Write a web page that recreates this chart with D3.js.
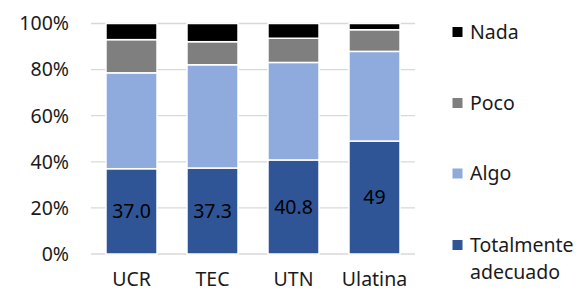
<!DOCTYPE html>
<html><head><meta charset="utf-8">
<script src="https://cdn.jsdelivr.net/npm/d3@7"></script>
<style>
html,body{margin:0;padding:0;background:#fff;}
svg{display:block;font-family:"Noto Sans",sans-serif;}
</style></head>
<body>
<svg id="chart" width="582" height="292"></svg>
<script>
const categories = ["UCR", "TEC", "UTN", "Ulatina"];
const seriesNames = ["Totalmente adecuado", "Algo", "Poco", "Nada"];
const totalmente = [37.0, 37.3, 40.8, 49.0];
const algo = [41.6, 44.8, 42.3, 38.9];
const poco = [14.4, 10.0, 10.5, 9.4];
const nada = [7.0, 7.9, 6.4, 2.7];
const valueLabels = ["37.0", "37.3", "40.8", "49"];
const yTicks = [0, 20, 40, 60, 80, 100];
const colors = ["#2F5597", "#8FAADC", "#7F7F7F", "#000000"];

const svg = d3.select("#chart");
const fontSize = 19.5;
const x = d3.scaleBand().domain(categories).range([91, 415]).paddingInner(0.37).paddingOuter(0.185);
const y = d3.scaleLinear().domain([0, 100]).range([254, 23.5]);

const rows = categories.map((c, i) => ({cat: c, "Totalmente adecuado": totalmente[i], "Algo": algo[i], "Poco": poco[i], "Nada": nada[i]}));
const stacked = d3.stack().keys(seriesNames)(rows);

// gridlines
svg.append("g").selectAll("line").data(yTicks).join("line")
  .attr("x1", 91).attr("x2", 415)
  .attr("y1", d => y(d)).attr("y2", d => y(d))
  .attr("stroke", "#d9d9d9").attr("stroke-width", 1.3);

// y labels
svg.append("g").selectAll("text").data(yTicks).join("text")
  .attr("x", 69).attr("y", d => y(d)).attr("dy", "0.35em")
  .attr("text-anchor", "end").attr("font-size", fontSize).attr("fill", "#1a1a1a")
  .text(d => d + "%");

// bars
stacked.forEach((layer, li) => {
  svg.append("g").selectAll("rect").data(layer).join("rect")
    .attr("x", d => x(d.data.cat))
    .attr("width", x.bandwidth())
    .attr("y", d => y(d[1]))
    .attr("height", d => y(d[0]) - y(d[1]))
    .attr("fill", colors[li])
    .attr("stroke", "#fff").attr("stroke-width", 1.5);
});

// value labels on first series
svg.append("g").selectAll("text").data(stacked[0]).join("text")
  .attr("x", d => x(d.data.cat) + x.bandwidth() / 2)
  .attr("y", d => (y(d[0]) + y(d[1])) / 2)
  .attr("dy", "0.35em").attr("text-anchor", "middle")
  .attr("font-size", fontSize).attr("fill", "#000")
  .text((d, i) => valueLabels[i]);

// x labels
svg.append("g").selectAll("text").data(categories).join("text")
  .attr("x", d => x(d) + x.bandwidth() / 2)
  .attr("y", 279).attr("dy", "0.35em").attr("text-anchor", "middle")
  .attr("font-size", fontSize).attr("fill", "#1a1a1a")
  .text(d => d);

// legend
const legendItems = [
  {name: ["Nada"], color: colors[3], y: 32},
  {name: ["Poco"], color: colors[2], y: 103},
  {name: ["Algo"], color: colors[1], y: 173.5},
  {name: ["Totalmente", "adecuado"], color: colors[0], y: 245}
];
const lg = svg.append("g");
legendItems.forEach(it => {
  lg.append("rect").attr("x", 452.5).attr("y", it.y - 5).attr("width", 10).attr("height", 10).attr("fill", it.color);
  const t = lg.append("text").attr("x", 470).attr("y", it.y).attr("dy", "0.35em")
    .attr("font-size", fontSize).attr("fill", "#1a1a1a");
  it.name.forEach((n, k) => {
    t.append("tspan").attr("x", 470).attr("dy", k === 0 ? "0.35em" : "1.4em").text(n);
  });
});
</script>
</body></html>
